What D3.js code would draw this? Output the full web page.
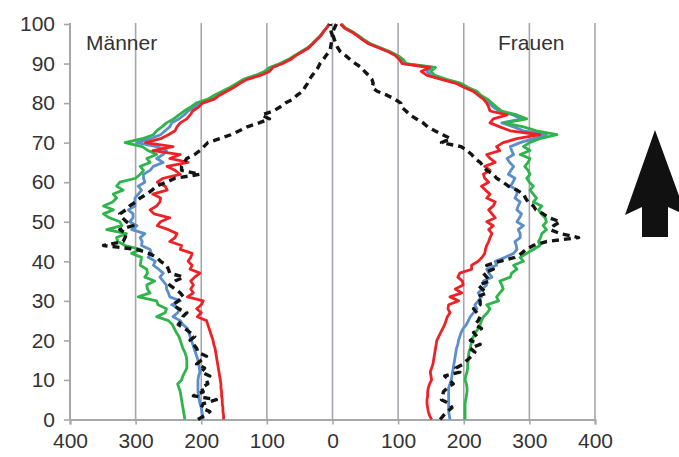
<!DOCTYPE html>
<html>
<head>
<meta charset="utf-8">
<script src="https://cdn.jsdelivr.net/npm/d3@7"></script>
<style>
  body { margin: 0; background: #fff; }
  svg { display: block; font-family: "Liberation Sans", Arial, sans-serif; }
</style>
</head>
<body>
<div id="chart-area"></div>
<script>
// Alter 0..100, Werte je Jahrgang
var ages = d3.range(0, 101);
var xTicks = [-400, -300, -200, -100, 0, 100, 200, 300, 400];
var yTicks = [0, 10, 20, 30, 40, 50, 60, 70, 80, 90, 100];

var menRed = [166,166,167,167,168,168,169,169,170,170,
  171,172,173,174,175,176,177,178,179,181,
  182,184,186,188,190,192,206,200,207,200,
  197,221,212,216,212,216,210,202,217,214,
  220,216,214,232,230,248,240,237,250,267,
  262,248,272,278,268,263,262,274,252,255,
  267,258,232,240,252,220,248,232,274,243,
  285,262,250,240,237,232,222,217,213,204,
  198,180,172,161,150,141,130,110,96,91,
  76,64,56,46,36,30,24,18,14,9,
  5];
var menGreen = [225,226,227,228,229,230,231,232,234,236,
  230,228,225,222,222,222,223,225,228,230,
  232,234,238,241,244,250,268,255,253,266,
  268,296,278,282,283,271,286,282,283,293,
  292,291,306,293,316,327,329,314,344,321,
  324,340,349,334,349,335,329,334,319,329,
  324,300,293,288,293,278,283,268,281,290,
  316,290,273,268,260,253,242,234,226,216,
  208,190,180,168,156,146,136,118,104,96,
  80,68,58,48,38,31,25,19,14,9,
  5];
var menBlue = [197,198,199,200,202,203,204,205,205,205,
  205,204,202,203,204,205,207,209,211,213,
  215,217,219,221,228,232,243,236,232,245,
  232,248,250,253,253,258,263,258,265,273,
  270,281,276,278,291,290,293,286,306,298,
  309,304,304,311,301,301,301,296,291,296,
  286,288,288,278,273,258,268,258,253,268,
  298,278,262,255,248,245,234,226,220,210,
  203,186,176,165,153,144,133,115,100,94,
  78,66,57,47,37,30,24,18,14,9,
  5];
var menBlack = [205,195,187,200,197,177,212,197,200,190,
  192,187,200,195,207,200,192,205,207,212,
  217,210,217,225,235,230,228,222,235,243,
  235,227,232,240,248,240,227,248,250,253,
  262,268,280,298,349,319,316,314,324,304,
  314,320,324,315,309,300,293,283,275,268,
  253,240,202,230,230,226,222,210,202,196,
  190,172,155,142,130,112,96,108,90,80,
  72,60,54,45,42,38,35,31,26,22,
  19,14,10,5,3,2,1,0,2,4,
  3];

var womenRed = [151,148,146,145,144,144,145,145,146,148,
  151,150,149,151,153,154,155,156,157,158,
  159,162,165,168,171,173,175,179,176,177,
  192,179,197,187,199,198,191,194,212,212,
  222,228,232,233,235,238,240,243,238,245,
  235,248,243,238,245,248,235,240,233,227,
  238,232,230,240,232,248,240,235,255,250,
  260,281,316,271,255,240,245,266,240,238,
  235,230,222,214,200,188,166,144,135,148,
  106,102,96,85,70,55,46,38,29,18,
  12];
var womenGreen = [202,202,202,202,202,203,204,205,205,204,
  202,203,205,206,206,207,207,208,210,211,
  212,215,218,222,225,227,230,236,240,235,
  253,250,255,260,258,255,271,273,281,276,
  291,286,296,306,316,314,317,319,326,321,
  326,324,318,314,319,306,311,306,301,306,
  300,296,301,298,293,298,301,286,301,291,
  300,316,342,311,291,262,296,281,258,250,
  243,236,226,220,206,196,174,156,150,157,
  112,108,100,88,73,58,48,40,31,20,
  14];
var womenBlue = [179,178,177,177,177,177,177,177,177,179,
  181,182,183,184,185,186,187,188,189,191,
  192,194,196,199,204,207,210,215,220,217,
  222,227,222,228,235,230,243,238,235,250,
  248,263,276,281,280,278,286,286,283,291,
  281,285,288,281,283,286,278,281,281,271,
  275,278,268,272,276,270,266,276,273,271,
  286,306,326,291,276,258,288,275,254,245,
  238,232,223,217,203,193,170,150,144,152,
  109,104,98,86,71,56,47,39,30,19,
  13];
var womenBlack = [164,169,175,182,178,166,168,169,175,184,
  178,171,194,188,199,205,212,217,210,225,
  210,220,215,227,217,222,225,220,215,225,
  225,220,235,228,222,240,235,230,245,235,
  255,278,288,295,306,326,375,347,332,337,
  347,330,321,310,306,298,294,291,281,268,
  260,250,245,235,230,225,217,212,205,196,
  166,180,168,156,145,138,128,118,112,105,
  104,95,83,68,60,62,60,55,49,44,
  35,27,20,12,8,5,3,1,0,3,
  6];

var canvasWidth = 679;
var canvasHeight = 457;
var margin = { left: 70, right: 84, top: 24, bottom: 37.5 };
var width = canvasWidth - margin.left - margin.right;
var height = canvasHeight - margin.top - margin.bottom;

var svg = d3.select("#chart-area")
  .append("svg")
    .attr("width", canvasWidth)
    .attr("height", canvasHeight);
var g = svg.append("g")
    .attr("transform", `translate(${margin.left},${margin.top})`);

var x = d3.scaleLinear().domain([-400, 400]).range([0, width]);
var y = d3.scaleLinear().domain([0, 100]).range([height, 0]);

var gridColor = "#a6a6ae";
var textColor = "#333";

// vertical grid lines
g.selectAll("line.grid")
  .data(xTicks.filter(d => d !== -400))
  .enter().append("line")
    .attr("class", "grid")
    .attr("x1", d => x(d)).attr("x2", d => x(d))
    .attr("y1", -1).attr("y2", height)
    .attr("stroke", gridColor)
    .attr("stroke-width", 1.6);

// x axis
var xAxisCall = d3.axisBottom(x)
  .tickValues(xTicks)
  .tickSize(5)
  .tickPadding(8)
  .tickFormat(d => Math.abs(d));
var xAxis = g.append("g")
  .attr("transform", `translate(0,${height})`)
  .call(xAxisCall);

// y axis
var yAxisCall = d3.axisLeft(y)
  .tickValues(yTicks)
  .tickSize(6)
  .tickPadding(9);
var yAxis = g.append("g").call(yAxisCall);

[xAxis, yAxis].forEach(a => {
  a.select(".domain").attr("stroke", gridColor).attr("stroke-width", 2);
  a.selectAll(".tick line").attr("stroke", gridColor).attr("stroke-width", 1.6);
  a.selectAll(".tick text")
    .attr("fill", textColor)
    .attr("font-size", "21px")
    .attr("font-family", "Liberation Sans, Arial, sans-serif");
});
xAxis.selectAll(".tick text").attr("dy", "0.72em");
yAxis.select(".domain").attr("d", `M0,${height}V-1`);

// lines
var series = [
  { men: menBlue,  women: womenBlue,  color: "#5b8fcb", dash: null },
  { men: menGreen, women: womenGreen, color: "#2fb34b", dash: null },
  { men: menRed,   women: womenRed,   color: "#ec2227", dash: null },
  { men: menBlack, women: womenBlack, color: "#141414", dash: "7,5" }
];

var lineMen = d3.line().x(d => x(-d[1])).y(d => y(d[0]));
var lineWomen = d3.line().x(d => x(d[1])).y(d => y(d[0]));

series.forEach(s => {
  [[s.men, lineMen], [s.women, lineWomen]].forEach(p => {
    g.append("path")
      .datum(ages.map((a, i) => [a, p[0][i]]))
      .attr("d", p[1])
      .attr("fill", "none")
      .attr("stroke", s.color)
      .attr("stroke-width", s.dash ? 3.4 : 2.8)
      .attr("stroke-dasharray", s.dash)
      .attr("stroke-linejoin", "round");
  });
});

// labels
g.append("text")
  .attr("x", 16).attr("y", y(93.3))
  .attr("font-size", "21px")
  .attr("fill", textColor)
  .text("Männer");
g.append("text")
  .attr("x", 428).attr("y", y(93.3))
  .attr("font-size", "21px")
  .attr("fill", textColor)
  .text("Frauen");

// arrow on the right
svg.append("path")
  .attr("d", "M655,130 L686,215 L668,207 L668,237 L642,237 L642,207 L625,215 Z")
  .attr("fill", "#111");
</script>
</body>
</html>
